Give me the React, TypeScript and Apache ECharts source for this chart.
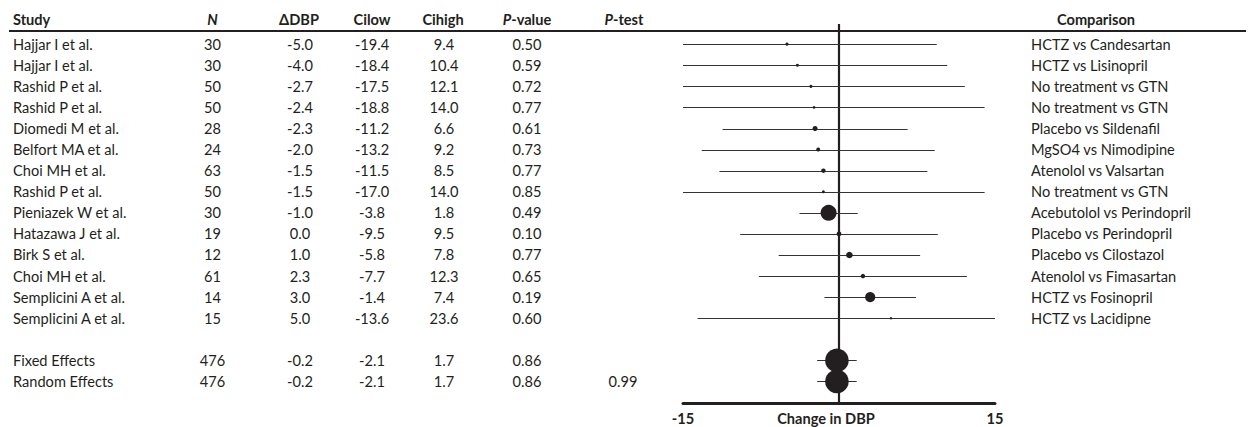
import React, { useEffect, useRef } from "react";
import * as echarts from "echarts";

const studies = [
  "Hajjar I et al.", "Hajjar I et al.", "Rashid P et al.", "Rashid P et al.",
  "Diomedi M et al.", "Belfort MA et al.", "Choi MH et al.", "Rashid P et al.",
  "Pieniazek W et al.", "Hatazawa J et al.", "Birk S et al.", "Choi MH et al.",
  "Semplicini A et al.", "Semplicini A et al.", "Fixed Effects", "Random Effects",
];
const rowSlots = [0, 1, 2, 3, 4, 5, 6, 7, 8, 9, 10, 11, 12, 13, 15, 16];
const nValues = [30, 30, 50, 50, 28, 24, 63, 50, 30, 19, 12, 61, 14, 15, 476, 476];
const dDBP = [-5.0, -4.0, -2.7, -2.4, -2.3, -2.0, -1.5, -1.5, -1.0, 0.0, 1.0, 2.3, 3.0, 5.0, -0.2, -0.2];
const ciLow = [-19.4, -18.4, -17.5, -18.8, -11.2, -13.2, -11.5, -17.0, -3.8, -9.5, -5.8, -7.7, -1.4, -13.6, -2.1, -2.1];
const ciHigh = [9.4, 10.4, 12.1, 14.0, 6.6, 9.2, 8.5, 14.0, 1.8, 9.5, 7.8, 12.3, 7.4, 23.6, 1.7, 1.7];
const pValues = ["0.50", "0.59", "0.72", "0.77", "0.61", "0.73", "0.77", "0.85", "0.49", "0.10", "0.77", "0.65", "0.19", "0.60", "0.86", "0.86"];
const pTests = ["", "", "", "", "", "", "", "", "", "", "", "", "", "", "", "0.99"];
const comparisons = [
  "HCTZ vs Candesartan", "HCTZ vs Lisinopril", "No treatment vs GTN", "No treatment vs GTN",
  "Placebo vs Sildenafil", "MgSO4 vs Nimodipine", "Atenolol vs Valsartan", "No treatment vs GTN",
  "Acebutolol vs Perindopril", "Placebo vs Perindopril", "Placebo vs Cilostazol", "Atenolol vs Fimasartan",
  "HCTZ vs Fosinopril", "HCTZ vs Lacidipne", "", "",
];
const headers = ["Study", "{i|N}", "ΔDBP", "Cilow", "Cihigh", "{i|P}-value", "{i|P}-test", "Comparison"];
const xAxisName = "Change in DBP";

const INK = "#231f20";
const FONT = "Lato, 'Open Sans', sans-serif";
const FS = 14.6;

// column layout (pixels): [x, align]
const cols: [number, string][] = [
  [13, "left"], [212.5, "center"], [300, "center"], [372, "center"],
  [444, "center"], [527, "center"], [623, "center"], [1031, "left"],
];
const headerCols: [number, string][] = [
  [13, "left"], [212.5, "center"], [299, "center"], [372, "center"],
  [443, "center"], [527, "center"], [624, "center"], [1096, "center"],
];

export default function App() {
  const ref = useRef<HTMLDivElement>(null);
  useEffect(() => {
    if (!ref.current) return;
    const chart = echarts.init(ref.current, null, { renderer: "svg" });
    const gridTop = 24;
    const gridHeight = 379;
    const yMin = -0.958;
    const yMax = 17.021;

    const tableData = studies.map((s, k) => [k, rowSlots[k]]);
    const ciData = ciLow.map((lo, k) => [lo, ciHigh[k], rowSlots[k]]);
    const pointData = dDBP.map((d, k) => [d, rowSlots[k], ciLow[k], ciHigh[k]]);

    const option: any = {
      animation: false,
      backgroundColor: "#ffffff",
      grid: [
        { left: 683, width: 312, top: gridTop, height: gridHeight, outerBoundsMode: "none", containLabel: false },
        { left: 0, right: 0, top: gridTop, height: gridHeight, outerBoundsMode: "none", containLabel: false },
      ],
      xAxis: [
        {
          type: "value", gridIndex: 0, min: -15, max: 15, interval: 15,
          axisLine: { show: true, onZero: false, lineStyle: { color: INK, width: 3 } },
          axisTick: { show: false },
          splitLine: { show: false },
          axisLabel: {
            formatter: (v: number) => (v === 0 ? "" : String(v)),
            color: INK, fontWeight: "bold", fontSize: FS, fontFamily: FONT, margin: 8,
          },
          name: xAxisName, nameLocation: "middle", nameGap: 7.5, nameMoveOverlap: false,
          nameTextStyle: { color: INK, fontWeight: "bold", fontSize: FS, fontFamily: FONT, padding: [0, 26, 0, 0], verticalAlign: "top" },
        },
        { type: "value", gridIndex: 1, min: 0, max: 1248, show: false },
      ],
      yAxis: [
        { type: "value", gridIndex: 0, min: yMin, max: yMax, inverse: true, show: false },
        { type: "value", gridIndex: 1, min: yMin, max: yMax, inverse: true, show: false },
      ],
      graphic: [
        {
          type: "line", z: 10,
          shape: { x1: 9, y1: 31, x2: 1246, y2: 31 },
          style: { stroke: INK, lineWidth: 2.2 },
        },
        ...headers.map((h, k) => ({
          type: "text",
          x: headerCols[k][0], y: 19,
          style: {
            text: h, fill: INK, fontSize: FS, fontFamily: FONT, fontWeight: "bold",
            align: headerCols[k][1], verticalAlign: "middle",
            rich: { i: { fontStyle: "italic", fontWeight: "bold", fontSize: FS, fontFamily: FONT, fill: INK } },
          },
        })),
      ],
      series: [
        {
          type: "custom", xAxisIndex: 1, yAxisIndex: 1, data: tableData,
          renderItem: (params: any, api: any) => {
            const k = api.value(0);
            const y = api.coord([0, api.value(1)])[1];
            const texts = [
              studies[k], String(nValues[k]), dDBP[k].toFixed(1), ciLow[k].toFixed(1),
              ciHigh[k].toFixed(1), pValues[k], pTests[k], comparisons[k],
            ];
            return {
              type: "group",
              children: texts.map((t, c) => ({
                type: "text",
                x: cols[c][0], y,
                style: {
                  text: t, fill: INK, fontSize: FS, fontFamily: FONT,
                  align: cols[c][1], verticalAlign: "middle",
                },
              })),
            };
          },
          silent: true,
        },
        {
          type: "custom", xAxisIndex: 0, yAxisIndex: 0, data: ciData, clip: true,
          encode: { x: [0, 1], y: 2 },
          renderItem: (params: any, api: any) => {
            const a = api.coord([api.value(0), api.value(2)]);
            const b = api.coord([api.value(1), api.value(2)]);
            const y = Math.round(a[1]) + 0.5;
            return {
              type: "line",
              shape: { x1: a[0], y1: y, x2: b[0], y2: y },
              style: { stroke: "#333333", lineWidth: 1.1 },
            };
          },
          silent: true, z: 2,
        },
        {
          type: "scatter", xAxisIndex: 0, yAxisIndex: 0, data: pointData,
          symbol: "circle",
          symbolSize: (v: number[]) => 89.6 / (v[3] - v[2]),
          itemStyle: { color: INK, opacity: 1 },
          silent: true, z: 3,
          markLine: {
            silent: true, symbol: ["none", "none"],
            label: { show: false },
            lineStyle: { color: INK, width: 2.2, type: "solid" },
            data: [{ xAxis: 0 }],
            z: 1,
          },
        },
      ],
    };
    chart.setOption(option);
    return () => chart.dispose();
  }, []);
  return (
    <div
      ref={ref}
      style={{ position: "fixed", left: 0, top: 0, width: 1248, height: 427, background: "#fff" }}
    />
  );
}
